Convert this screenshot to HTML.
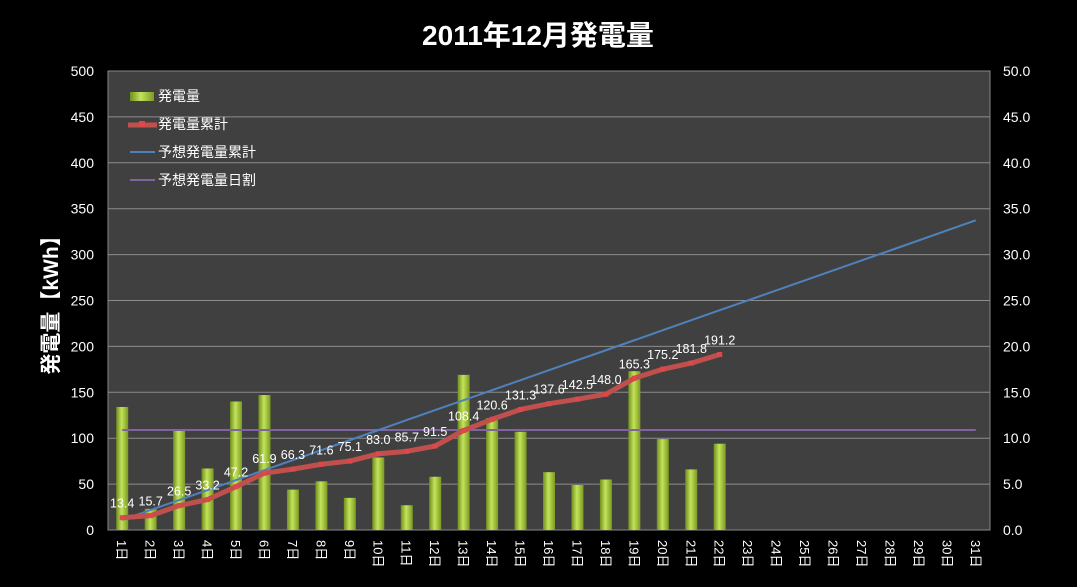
<!DOCTYPE html>
<html><head><meta charset="utf-8"><style>
body{margin:0;background:#000;width:1077px;height:582px;overflow:hidden}
svg text{font-family:"Liberation Sans","Noto Sans CJK JP",sans-serif}
</style></head><body>
<svg id="c" width="1077" height="582" xmlns="http://www.w3.org/2000/svg">
<defs>
<linearGradient id="bg" x1="0" x2="1" y1="0" y2="0">
<stop offset="0" stop-color="#6f8f1e"/><stop offset="0.45" stop-color="#c4e35a"/><stop offset="1" stop-color="#7a9a22"/>
</linearGradient>
</defs>
<rect x="0" y="0" width="1077" height="582" fill="#000"/>
<text x="538" y="45" fill="#fff" font-size="28" font-weight="bold" text-anchor="middle">2011年12月発電量</text>
<rect x="108" y="71" width="882" height="459" fill="#404040" stroke="#888"/>
<g id="grid"></g><g id="bars"></g><g id="lines"></g><g id="labels"></g>
<text transform="translate(58,300) rotate(-90)" fill="#fff" font-size="21" font-weight="bold" text-anchor="middle">発電量【kWh】</text>
<g>
<rect x="130" y="92" width="24" height="9" fill="url(#bg)"/>
<text x="158" y="101" fill="#fff" font-size="14">発電量</text>
<line x1="128" y1="125" x2="157" y2="125" stroke="#c0504d" stroke-width="5"/>
<rect x="139" y="121" width="6" height="6" fill="#e0474a"/>
<text x="158" y="129" fill="#fff" font-size="14">発電量累計</text>
<line x1="130" y1="152" x2="155" y2="152" stroke="#4f81bd" stroke-width="2"/>
<text x="158" y="157" fill="#fff" font-size="14">予想発電量累計</text>
<line x1="130" y1="180" x2="155" y2="180" stroke="#8064a2" stroke-width="2"/>
<text x="158" y="185" fill="#fff" font-size="14">予想発電量日割</text>
</g>
</svg>
<script>
const days=["1日","2日","3日","4日","5日","6日","7日","8日","9日","10日","11日","12日","13日","14日","15日","16日","17日","18日","19日","20日","21日","22日","23日","24日","25日","26日","27日","28日","29日","30日","31日"];
const daily=[13.4,2.3,10.8,6.7,14.0,14.7,4.4,5.3,3.5,7.9,2.7,5.8,16.9,12.2,10.7,6.3,4.9,5.5,17.3,9.9,6.6,9.4];
const cumulative=[13.4,15.7,26.5,33.2,47.2,61.9,66.3,71.6,75.1,83.0,85.7,91.5,108.4,120.6,131.3,137.6,142.5,148.0,165.3,175.2,181.8,191.2];
const forecastCum=[10.9,21.8,32.6,43.5,54.4,65.3,76.2,87.0,97.9,108.8,119.7,130.6,141.4,152.3,163.2,174.1,185.0,195.8,206.7,217.6,228.5,239.4,250.2,261.1,272.0,282.9,293.8,304.6,315.5,326.4,337.3];
const forecastDaily=[10.9,10.9,10.9,10.9,10.9,10.9,10.9,10.9,10.9,10.9,10.9,10.9,10.9,10.9,10.9,10.9,10.9,10.9,10.9,10.9,10.9,10.9,10.9,10.9,10.9,10.9,10.9,10.9,10.9,10.9,10.9];
const leftTicks=[0,50,100,150,200,250,300,350,400,450,500];
const rightTicks=["0.0","5.0","10.0","15.0","20.0","25.0","30.0","35.0","40.0","45.0","50.0"];
const NS="http://www.w3.org/2000/svg";
const X0=108,X1=990,Y0=530,Y1=71;
const xc=i=>X0+(i+0.5)*(X1-X0)/days.length;
const yL=v=>Y0-(v/500)*(Y0-Y1);
const yR=v=>Y0-(v/50)*(Y0-Y1);
function mk(tag,parent,attrs){const e=document.createElementNS(NS,tag);for(const k in attrs)e.setAttribute(k,attrs[k]);document.getElementById(parent).appendChild(e);return e;}
leftTicks.forEach((t,i)=>{
 if(t>0&&t<500){const l=mk('line','grid',{x1:X0,x2:X1,y1:yL(t),y2:yL(t),stroke:'#8c8c8c','stroke-width':1});
 
 }
 const a=mk('text','grid',{x:94,y:yL(t)+5,fill:'#fff','font-size':14,'text-anchor':'end'});a.textContent=t;
 
 
 const b=mk('text','grid',{x:1003,y:yL(t)+5,fill:'#fff','font-size':14});b.textContent=rightTicks[i];
 
 
});
days.forEach((d,i)=>{
 const t=mk('text','grid',{transform:`translate(${xc(i)-5},540) rotate(90)`,fill:'#fff','font-size':13});t.textContent=d;
 
 
});
daily.forEach((v,i)=>{
 const r=mk('rect','bars',{x:xc(i)-6,y:yR(v),width:12,height:Y0-yR(v),fill:'url(#bg)'});
 
 
});
const pf=mk('polyline','lines',{points:forecastDaily.map((v,i)=>xc(i)+','+yR(v)).join(' '),fill:'none',stroke:'#8064a2','stroke-width':2});


const fc=mk('polyline','lines',{points:forecastCum.map((v,i)=>xc(i)+','+yL(v)).join(' '),fill:'none',stroke:'#4f81bd','stroke-width':2});


const cc=mk('polyline','lines',{points:cumulative.map((v,i)=>xc(i)+','+yL(v)).join(' '),fill:'none',stroke:'#c0504d','stroke-width':5,'stroke-linejoin':'round'});


cumulative.forEach((v,i)=>{
 const m=mk('rect','lines',{x:xc(i)-2.5,y:yL(v)-2.5,width:5,height:5,fill:'#e0474a'});
 
 
 const t=mk('text','labels',{x:xc(i),y:yL(v)-10,fill:'#fff','font-size':12.5,'text-anchor':'middle'});t.textContent=v.toFixed(1);
 
 
});
</script>
</body></html>
